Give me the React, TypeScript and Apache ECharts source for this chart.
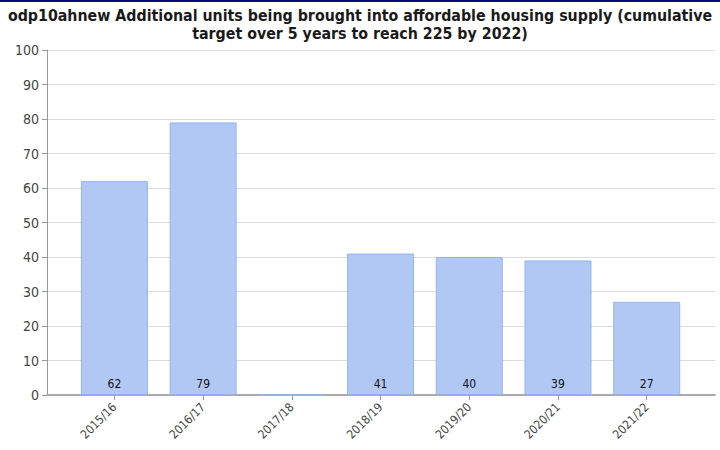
import React, { useEffect, useRef } from "react";
import * as echarts from "echarts";

const categories = ["2015/16", "2016/17", "2017/18", "2018/19", "2019/20", "2020/21", "2021/22"];
const values = [62, 79, 0, 41, 40, 39, 27];
const yTicks = [0, 10, 20, 30, 40, 50, 60, 70, 80, 90, 100];
const titleText =
  "odp10ahnew Additional units being brought into affordable housing supply (cumulative\ntarget over 5 years to reach 225 by 2022)";

export default function App() {
  const ref = useRef<HTMLDivElement>(null);
  useEffect(() => {
    if (!ref.current) return;
    const chart = echarts.init(ref.current, null, { renderer: "svg" });
    const idx = categories.map((_, i) => i);
    chart.setOption({
      animation: false,
      backgroundColor: "#ffffff",
      title: {
        text: titleText,
        left: "center",
        top: 1,
        textStyle: {
          fontFamily: "DejaVu Sans Condensed",
          fontWeight: "bold",
          fontSize: 15.8,
          color: "#1a1a1a",
          lineHeight: 18,
        },
      },
      graphic: [
        { type: "rect", left: 0, top: 0, shape: { width: 720, height: 2 }, style: { fill: "#0a0a80" } },
      ],
      grid: { left: 47, right: 5, top: 50, bottom: 55, containLabel: false },
      xAxis: {
        type: "value",
        min: -0.76,
        max: 6.77,
        splitLine: { show: false },
        axisLine: { show: true, onZero: false, lineStyle: { color: "#aaaaaa", width: 2 } },
        axisTick: { show: true, customValues: idx, length: 5, lineStyle: { color: "#999999" } },
        axisLabel: {
          customValues: idx,
          rotate: 45,
          margin: 10,
          fontSize: 12,
          fontFamily: "DejaVu Sans Condensed",
          color: "#444444",
          formatter: (v: number) => categories[Math.round(v)] ?? "",
        },
      },
      yAxis: {
        type: "value",
        min: 0,
        max: 100,
        interval: 10,
        axisLine: { show: true, onZero: false, lineStyle: { color: "#999999" } },
        axisTick: { show: true, length: 5, lineStyle: { color: "#999999" } },
        axisLabel: {
          margin: 8,
          fontSize: 14,
          fontFamily: "DejaVu Sans Condensed",
          color: "#444444",
          customValues: yTicks,
        },
        splitLine: { show: true, lineStyle: { color: "#dddddd" } },
      },
      series: [
        {
          type: "bar",
          data: values.map((v, i) => [i, v]),
          barWidth: 67,
          itemStyle: { color: "#b1c8f5", borderColor: "#94b3ee", borderWidth: 1 },
          label: {
            show: true,
            position: "insideBottom",
            distance: 5,
            fontSize: 12,
            fontFamily: "DejaVu Sans Condensed",
            color: "#111111",
            formatter: (p: any) => (p.value[1] === 0 ? "" : String(p.value[1])),
          },
        },
      ],
    });
    return () => chart.dispose();
  }, []);
  return (
    <div
      ref={ref}
      style={{ position: "absolute", left: 0, top: 0, width: 720, height: 450 }}
    />
  );
}
